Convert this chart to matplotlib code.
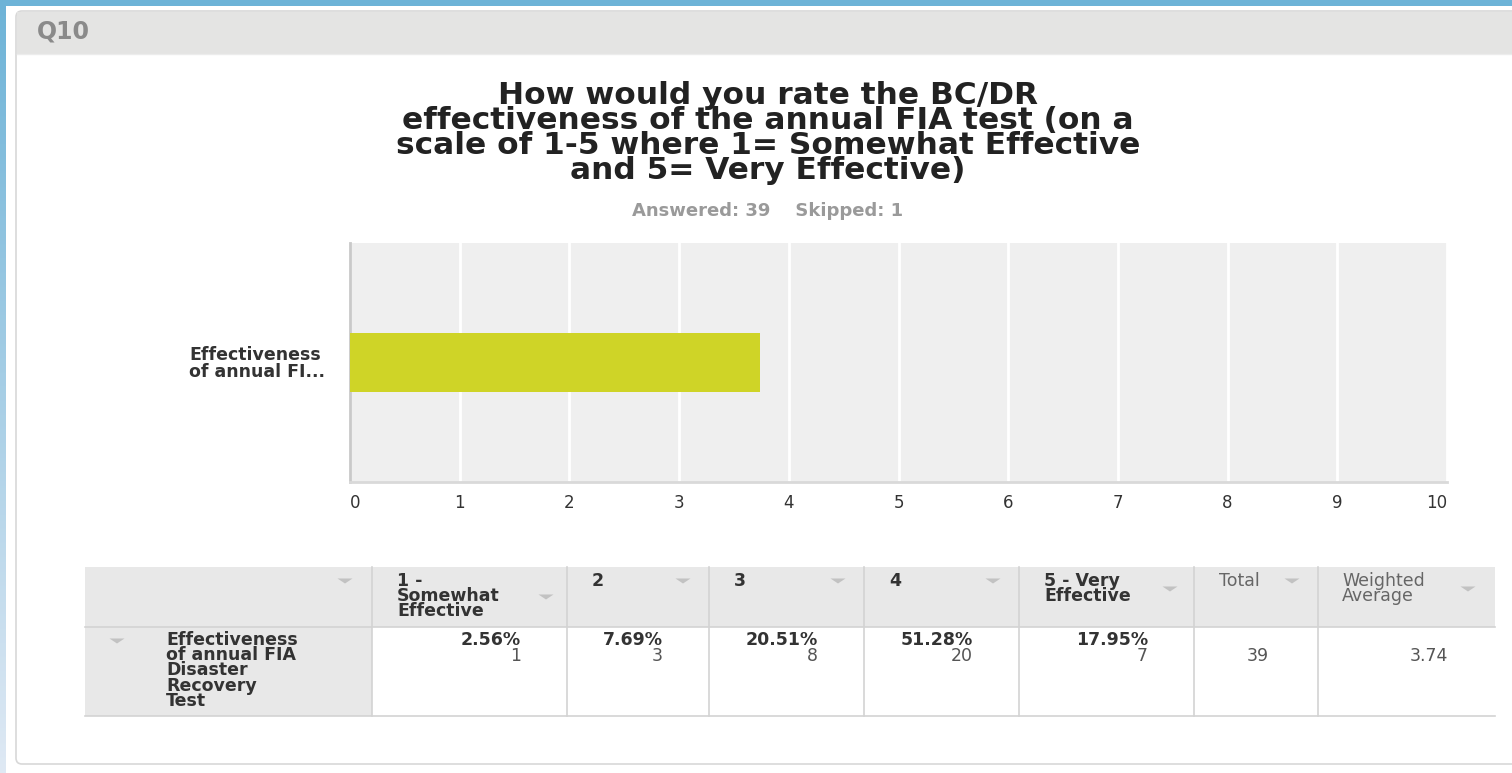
import numpy as np
import matplotlib
matplotlib.use("Agg")
import matplotlib.pyplot as plt
from matplotlib.patches import Rectangle, FancyBboxPatch, Polygon

# ---------------- data ----------------
question_id = "Q10"
title = ("How would you rate the BC/DR\neffectiveness of the annual FIA test (on a\n"
         "scale of 1-5 where 1= Somewhat Effective\nand 5= Very Effective)")
answered = 39
skipped = 1
bar_label_short = "Effectiveness\nof annual FI..."
row_label = "Effectiveness\nof annual FIA\nDisaster\nRecovery\nTest"
column_headers = ["1 -\nSomewhat\nEffective", "2", "3", "4", "5 - Very\nEffective"]
percentages = [2.56, 7.69, 20.51, 51.28, 17.95]
counts = [1, 3, 8, 20, 7]
total = 39
weighted_average = 3.74
x_ticks = list(range(0, 11))

# ---------------- figure ----------------
W, H = 1512, 773
fig = plt.figure(figsize=(W / 100, H / 100), dpi=100)
fig.patch.set_facecolor("white")
bg = fig.add_axes([0, 0, 1, 1])
bg.set_xlim(0, W)
bg.set_ylim(H, 0)
bg.axis("off")

FONT = "DejaVu Sans"
DARK = "#333333"
FS = 12.5

# blue frame strips (top and left gradient)
bg.add_patch(Rectangle((0, 0), W, 6, color="#6db3d7", lw=0, zorder=1))
grad = np.linspace(0, 1, 200)[:, None]
c0 = np.array([0x6d, 0xb3, 0xd7]) / 255
c1 = np.array([0xdf, 0xe9, 0xf4]) / 255
img = c0[None, None, :] * (1 - grad[..., None]) + c1[None, None, :] * grad[..., None]
bg.imshow(img, extent=[0, 6, H, 0], aspect="auto", zorder=1, interpolation="bilinear")
bg.set_xlim(0, W)
bg.set_ylim(H, 0)

# card
bg.add_patch(FancyBboxPatch((16, 11), W + 40, 753, boxstyle="round,pad=0,rounding_size=6",
                            facecolor="white", edgecolor="#d8d8d8", lw=1.2, zorder=2))
bg.add_patch(Rectangle((16.6, 11.6), W, 42.4, facecolor="#e4e4e3", edgecolor="none", zorder=3))
bg.plot([16.6, W], [54, 54], color="#ececec", lw=1, zorder=3)
bg.text(37, 31, question_id, fontsize=17, fontweight="bold", color="#8a8a8a",
        family=FONT, va="center", ha="left", zorder=4)

# title and subtitle
bg.text(768, 133, title, fontsize=22.5, fontweight="bold", color="#222222", family=FONT,
        ha="center", va="center", linespacing=0.83, zorder=4)
bg.text(768, 211, f"Answered: {answered}    Skipped: {skipped}", fontsize=13,
        fontweight="bold", color="#9a9a9a", family=FONT, ha="center", va="center", zorder=4)

# ---------------- bar chart ----------------
pl, pr, pt, pb = 350, 1447, 243, 482
ax = fig.add_axes([pl / W, 1 - pb / H, (pr - pl) / W, (pb - pt) / H])
ax.set_facecolor("#efefef")
ax.barh([0], [weighted_average], height=0.25, color="#cfd427", zorder=3)
ax.set_xlim(0, 10)
ax.set_ylim(-0.5, 0.5)
ax.set_xticks(x_ticks)
ax.set_xticklabels([str(t) for t in x_ticks], fontsize=12, color=DARK, family=FONT)
labs = ax.get_xticklabels()
labs[0].set_ha("left")
labs[-1].set_ha("right")
ax.tick_params(axis="x", length=0, pad=9)
ax.set_yticks([0])
ax.set_yticklabels([bar_label_short], fontsize=FS, fontweight="bold", color=DARK,
                   family=FONT, multialignment="left", linespacing=0.9)
ax.tick_params(axis="y", length=0, pad=18)
ax.grid(axis="x", color="white", lw=2)
ax.grid(axis="y", visible=False)
ax.set_axisbelow(True)
for s in ["top", "right"]:
    ax.spines[s].set_visible(False)
ax.spines["left"].set_color("#c9c9c9")
ax.spines["left"].set_linewidth(2)
ax.spines["bottom"].set_color("#d9d9d9")
ax.spines["bottom"].set_linewidth(2)

# ---------------- table ----------------
edges = [85, 372, 567, 709, 864, 1019, 1194, 1318, 1495]
ty0, ty1, ty2 = 567, 627, 716
HEAD_BG = "#e8e8e8"
LINE = "#d3d3d3"
bg.add_patch(Rectangle((edges[0], ty0), edges[-1] - edges[0], ty1 - ty0,
                       facecolor=HEAD_BG, edgecolor="none", zorder=3))
bg.add_patch(Rectangle((edges[0], ty1), edges[1] - edges[0], ty2 - ty1,
                       facecolor=HEAD_BG, edgecolor="none", zorder=3))
bg.plot([edges[0], edges[-1]], [ty1, ty1], color=LINE, lw=1.2, zorder=4)
bg.plot([edges[0], edges[-1]], [ty2, ty2], color=LINE, lw=1.2, zorder=4)
for x in edges[1:-1]:
    bg.plot([x, x], [ty0, ty2], color=LINE, lw=1.2, zorder=4)


def tri(x, y, w=15, h=5):
    bg.add_patch(Polygon([[x - w / 2, y - h / 2], [x + w / 2, y - h / 2], [x, y + h / 2]],
                         closed=True, facecolor="#c2c2c2", edgecolor="none", zorder=5))


def lines(x, y, text, step=15.2, **kw):
    for i, line in enumerate(text.split("\n")):
        bg.text(x, y + i * step, line, family=FONT, va="center", zorder=5, **kw)


# header cells
tri(edges[1] - 27, 581)
for i, head in enumerate(column_headers):
    x0 = edges[i + 1]
    lines(x0 + 25, 581, head, fontsize=FS, fontweight="bold", color=DARK, ha="left")
tri(546, 597)
for i in [2, 3, 4]:
    tri(edges[i + 1] - 26, 581)
tri(1170, 589)
lines(edges[6] + 25, 581, "Total", fontsize=FS, color="#666666", ha="left")
tri(1292, 581)
lines(edges[7] + 24, 581, "Weighted\nAverage", fontsize=FS, color="#666666", ha="left")
tri(1468, 589)

# body row
tri(117, 641)
lines(166, 640, row_label, fontsize=FS, fontweight="bold", color=DARK, ha="left")
for i, (p, c) in enumerate(zip(percentages, counts)):
    xr = edges[i + 2] - 46
    bg.text(xr, 640, f"{p:.2f}%", fontsize=FS, fontweight="bold", color=DARK,
            family=FONT, ha="right", va="center", zorder=5)
    bg.text(xr, 656, str(c), fontsize=FS, color="#555555", family=FONT,
            ha="right", va="center", zorder=5)
bg.text((edges[6] + edges[7]) / 2 + 2, 656, str(total), fontsize=FS, color="#555555",
        family=FONT, ha="center", va="center", zorder=5)
bg.text(edges[8] - 47, 656, f"{weighted_average:.2f}", fontsize=FS, color="#555555",
        family=FONT, ha="right", va="center", zorder=5)

fig.savefig("out.png", dpi=100)
